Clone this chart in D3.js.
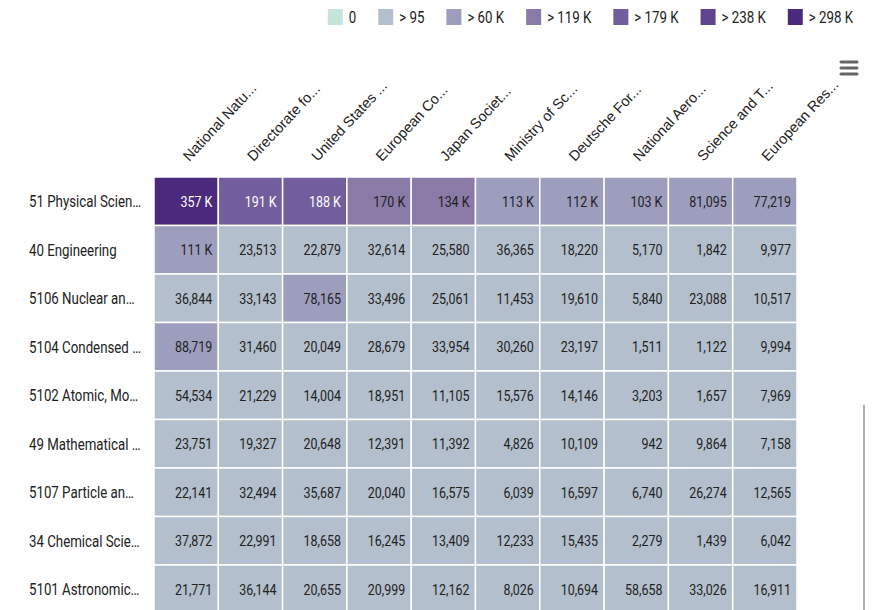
<!DOCTYPE html>
<html>
<head>
<meta charset="utf-8">
<script src="https://cdn.jsdelivr.net/npm/d3@7"></script>
<style>
    body { margin: 0; background: white; }
</style>
</head>
<body>
<div id="canvas"></div>
<script>
"use strict"
let svgWidth = 879;
let svgHeight = 610;

// grid area
let gridLeft = 154;
let gridRight = 797;
let gridTop = 177;
let rowStep = 48.5;

// condensed look: Roboto squeezed horizontally
let squeeze = 0.83;

// row categories (already cut like in the picture)
let rowNames = [
    "51 Physical Scien…",
    "40 Engineering",
    "5106 Nuclear an…",
    "5104 Condensed …",
    "5102 Atomic, Mo…",
    "49 Mathematical …",
    "5107 Particle an…",
    "34 Chemical Scie…",
    "5101 Astronomic…"
];

// column categories (funders)
let colNames = [
    "National Natu...",
    "Directorate fo...",
    "United States ...",
    "European Co...",
    "Japan Societ...",
    "Ministry of Sc...",
    "Deutsche For...",
    "National Aero...",
    "Science and T...",
    "European Res..."
];

// one array of values per row, same order as colNames
let physical = [357000, 191000, 188000, 170000, 134000, 113000, 112000, 103000, 81095, 77219];
let engineering = [111000, 23513, 22879, 32614, 25580, 36365, 18220, 5170, 1842, 9977];
let nuclear = [36844, 33143, 78165, 33496, 25061, 11453, 19610, 5840, 23088, 10517];
let condensed = [88719, 31460, 20049, 28679, 33954, 30260, 23197, 1511, 1122, 9994];
let atomic = [54534, 21229, 14004, 18951, 11105, 15576, 14146, 3203, 1657, 7969];
let mathematical = [23751, 19327, 20648, 12391, 11392, 4826, 10109, 942, 9864, 7158];
let particle = [22141, 32494, 35687, 20040, 16575, 6039, 16597, 6740, 26274, 12565];
let chemical = [37872, 22991, 18658, 16245, 13409, 12233, 15435, 2279, 1439, 6042];
let astronomical = [21771, 36144, 20655, 20999, 12162, 8026, 10694, 58658, 33026, 16911];

let rowValues = [physical, engineering, nuclear, condensed, atomic, mathematical, particle, chemical, astronomical];

// colour classes and their legend labels
let classBreaks = [95, 59600, 119100, 178700, 238300, 297800];
let classColors = ["#c6e4dc", "#b3bfcc", "#9d9dbe", "#8a7aa8", "#735e9d", "#5e4590", "#4b2a7d"];
let legendLabels = ["0", "> 95", "> 60 K", "> 119 K", "> 179 K", "> 238 K", "> 298 K"];

let svg = d3.select("#canvas")
    .append("svg")
    .attr("width", svgWidth)
    .attr("height", svgHeight);

// flatten rows into cells
let cells = [];
for (let r = 0; r < rowNames.length; r++) {
    for (let c = 0; c < colNames.length; c++) {
        cells.push({row: rowNames[r], col: colNames[c], value: rowValues[r][c]});
    }
}

let xScale = d3.scaleBand()
    .domain(colNames)
    .range([gridLeft, gridRight]);

let yScale = d3.scaleBand()
    .domain(rowNames)
    .range([gridTop, gridTop + rowStep * rowNames.length]);

let colorScale = d3.scaleThreshold()
    .domain(classBreaks)
    .range(classColors);

function formatValue(v) {
    if (v >= 100000) {
        return Math.round(v / 1000) + " K";
    }
    return d3.format(",")(v);
}

// cells
svg.selectAll("rect.cell")
    .data(cells)
    .join("rect")
    .attr("class", "cell")
    .attr("x", d => xScale(d.col))
    .attr("y", d => yScale(d.row))
    .attr("width", xScale.bandwidth())
    .attr("height", yScale.bandwidth())
    .attr("fill", d => colorScale(d.value))
    .attr("stroke", "white")
    .attr("stroke-width", 1.5);

// cell labels, white on the darker classes
svg.selectAll("text.value")
    .data(cells)
    .join("text")
    .attr("class", "value")
    .attr("transform", d => "translate(" + (xScale(d.col) + xScale.bandwidth() - 6) + "," +
        (yScale(d.row) + yScale.bandwidth() / 2) + ") scale(" + squeeze + ",1)")
    .attr("dy", "0.36em")
    .attr("text-anchor", "end")
    .attr("font-family", "Roboto")
    .attr("font-size", 15)
    .attr("fill", d => d.value >= classBreaks[3] ? "#ffffff" : "#222222")
    .text(d => formatValue(d.value));

// row labels on the left
svg.selectAll("text.rowLabel")
    .data(rowNames)
    .join("text")
    .attr("class", "rowLabel")
    .attr("transform", d => "translate(29," + (yScale(d) + yScale.bandwidth() / 2) + ") scale(" + squeeze + ",1)")
    .attr("dy", "0.36em")
    .attr("font-family", "Roboto")
    .attr("font-size", 16)
    .attr("fill", "#222222")
    .text(d => d);

// column labels, tilted
svg.selectAll("text.colLabel")
    .data(colNames)
    .join("text")
    .attr("class", "colLabel")
    .attr("transform", d => "translate(" + (xScale(d) + xScale.bandwidth() / 2 + 3) + ",162) rotate(-47)")
    .attr("font-family", "Liberation Sans, Arial, sans-serif")
    .attr("font-size", 14.5)
    .attr("fill", "#222222")
    .text(d => d);

// legend, laid out left to right then pushed to the right edge
let legend = svg.append("g");
let legendX = 0;
for (let i = 0; i < legendLabels.length; i++) {
    legend.append("rect")
        .attr("x", legendX)
        .attr("y", 9)
        .attr("width", 15)
        .attr("height", 16)
        .attr("fill", classColors[i]);
    let t = legend.append("text")
        .attr("transform", "translate(" + (legendX + 21) + ",17) scale(" + squeeze + ",1)")
        .attr("dy", "0.36em")
        .attr("font-family", "Roboto")
        .attr("font-size", 16)
        .attr("fill", "#222222")
        .text(legendLabels[i]);
    legendX += 21 + t.node().getComputedTextLength() * squeeze;
    if (i < legendLabels.length - 1) legendX += 22;
}
legend.attr("transform", "translate(" + (853 - legendX) + ",0)");

// menu button
let menu = svg.append("g").attr("stroke", "#666666").attr("stroke-width", 3).attr("stroke-linecap", "round");
[62, 68, 74].forEach(function (y) {
    menu.append("line").attr("x1", 841).attr("x2", 857).attr("y1", y).attr("y2", y);
});

// thin scroll bar line on the right
svg.append("line")
    .attr("x1", 864).attr("x2", 864)
    .attr("y1", 405).attr("y2", svgHeight)
    .attr("stroke", "#777777")
    .attr("stroke-width", 1.2);
</script>
</body>
</html>
